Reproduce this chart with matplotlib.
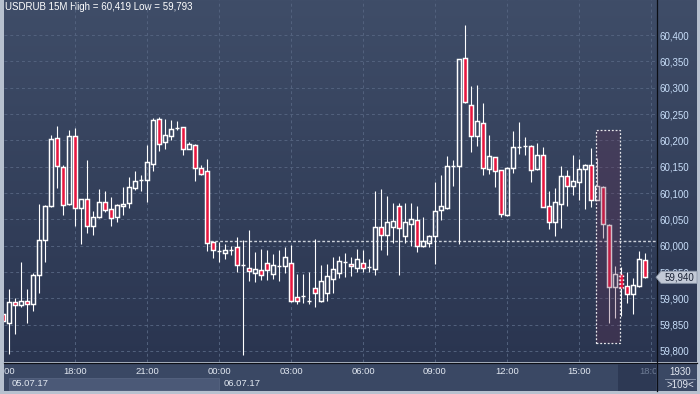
"""USDRUB 15M candlestick chart, dark terminal style."""

import matplotlib

matplotlib.use("Agg")
import matplotlib.pyplot as plt
import numpy as np
from matplotlib.patches import Polygon, Rectangle
from matplotlib.ticker import FixedLocator, FuncFormatter

plt.rcParams["font.family"] = ["Liberation Sans", "DejaVu Sans"]

W, H = 700, 394

# 15-minute candles, starting 05.07.17 15:00
OPEN = [
    59.870, 59.854, 59.893, 59.888, 59.894, 59.889, 59.945, 60.010, 60.076, 60.204,
    60.149, 60.079, 60.209, 60.072, 60.088, 60.038, 60.054, 60.082, 60.069, 60.054,
    60.076, 60.081, 60.110, 60.124, 60.124, 60.155, 60.240, 60.196, 60.209, 60.223,
    60.225, 60.184, 60.192, 60.147, 60.141, 60.007, 59.989, 59.987, 59.991, 59.997,
    59.963, 59.957, 59.949, 59.953, 59.968, 59.947, 59.962, 59.962, 59.968, 59.903,
    59.904, 59.895, 59.919, 59.894, 59.911, 59.936, 59.949, 59.969, 59.965, 59.958,
    59.968, 59.959, 59.955, 60.036, 60.021, 60.035, 60.075, 60.019, 60.042, 60.048,
    59.999, 60.006, 60.018, 60.067, 60.072, 60.152, 60.152, 60.356, 60.268, 60.208,
    60.232, 60.145, 60.168, 60.143, 60.059, 60.147, 60.188, 60.190, 60.190, 60.145,
    60.172, 60.075, 60.044, 60.080, 60.133, 60.113, 60.120, 60.145, 60.154, 60.087,
    60.112, 60.040, 59.922, 59.946, 59.923, 59.909, 59.924, 59.972,
]
HIGH = [
    59.872, 59.917, 59.901, 59.969, 59.918, 59.948, 60.080, 60.077, 60.211, 60.227,
    60.153, 60.220, 60.224, 60.089, 60.163, 60.066, 60.107, 60.104, 60.092, 60.080,
    60.111, 60.130, 60.142, 60.135, 60.191, 60.243, 60.244, 60.240, 60.238, 60.237,
    60.226, 60.197, 60.193, 60.153, 60.164, 60.008, 60.007, 60.003, 60.000, 60.016,
    60.011, 60.030, 59.988, 59.993, 59.992, 59.985, 59.992, 59.998, 60.001, 59.947,
    59.946, 59.950, 60.012, 59.963, 59.965, 59.978, 59.980, 59.987, 59.978, 59.993,
    59.992, 59.974, 60.104, 60.107, 60.094, 60.081, 60.081, 60.081, 60.081, 60.075,
    60.054, 60.021, 60.120, 60.134, 60.170, 60.163, 60.354, 60.419, 60.303, 60.306,
    60.271, 60.210, 60.169, 60.144, 60.149, 60.218, 60.235, 60.206, 60.191, 60.195,
    60.187, 60.104, 60.109, 60.151, 60.143, 60.172, 60.164, 60.155, 60.185, 60.167,
    60.113, 60.041, 59.962, 59.960, 59.950, 59.938, 59.989, 59.986,
]
LOW = [
    59.855, 59.795, 59.832, 59.884, 59.853, 59.876, 59.910, 59.969, 60.074, 60.109,
    60.059, 60.077, 60.038, 60.003, 60.024, 60.020, 60.053, 60.063, 60.038, 60.045,
    60.058, 60.072, 60.106, 60.104, 60.083, 60.142, 60.180, 60.184, 60.201, 60.219,
    60.172, 60.183, 60.123, 60.135, 59.990, 59.977, 59.969, 59.975, 59.983, 59.950,
    59.793, 59.933, 59.931, 59.935, 59.935, 59.937, 59.933, 59.949, 59.893, 59.890,
    59.891, 59.889, 59.884, 59.893, 59.894, 59.911, 59.939, 59.941, 59.942, 59.950,
    59.950, 59.950, 59.945, 59.992, 59.983, 60.006, 59.945, 60.006, 60.000, 59.988,
    59.998, 59.997, 59.966, 60.049, 60.069, 60.114, 60.004, 60.270, 60.178, 60.190,
    60.135, 60.137, 60.112, 60.055, 60.057, 60.138, 60.174, 60.172, 60.121, 60.144,
    60.073, 60.031, 60.019, 60.034, 60.076, 60.097, 60.087, 60.070, 60.074, 60.086,
    60.015, 59.853, 59.862, 59.866, 59.891, 59.870, 59.921, 59.939,
]
CLOSE = [
    59.857, 59.893, 59.888, 59.894, 59.889, 59.945, 60.010, 60.075, 60.202, 60.151,
    60.078, 60.208, 60.072, 60.088, 60.038, 60.054, 60.082, 60.067, 60.052, 60.078,
    60.080, 60.111, 60.122, 60.124, 60.158, 60.238, 60.194, 60.211, 60.221, 60.223,
    60.184, 60.193, 60.147, 60.136, 60.006, 59.991, 59.990, 59.991, 59.991, 59.964,
    59.963, 59.951, 59.955, 59.945, 59.954, 59.964, 59.962, 59.978, 59.894, 59.894,
    59.904, 59.895, 59.911, 59.932, 59.943, 59.955, 59.970, 59.969, 59.962, 59.974,
    59.958, 59.959, 60.035, 60.021, 60.044, 60.046, 60.033, 60.044, 60.050, 59.999,
    60.008, 60.018, 60.065, 60.075, 60.152, 60.152, 60.354, 60.272, 60.209, 60.236,
    60.147, 60.170, 60.141, 60.061, 60.147, 60.187, 60.188, 60.190, 60.143, 60.173,
    60.074, 60.044, 60.082, 60.133, 60.113, 60.122, 60.145, 60.154, 60.087, 60.114,
    60.042, 59.921, 59.947, 59.919, 59.908, 59.926, 59.974, 59.940,
]

TIME_TICKS = [0, 12, 24, 36, 48, 60, 72, 84, 96, 108]
TIME_LABELS = ["15:00", "18:00", "21:00", "00:00", "03:00", "06:00", "09:00", "12:00", "15:00", "18:00"]
PRICE_LEVELS = [59.80, 59.85, 59.90, 59.95, 60.00, 60.05, 60.10, 60.15, 60.20, 60.25, 60.30, 60.35, 60.40]
DATE_LABELS = ["05.07.17", "06.07.17"]
DATE_STARTS = [1.5, 36.7]

TITLE = "USDRUB 15M High = 60,419 Low = 59,793"
LAST_PRICE = 59.940
LEVEL_PRICE = 60.008
LEVEL_START = 34.5
ZONE_X = (98.9, 102.9)
ZONE_Y = (59.815, 60.219)

UP_FACE = "none"
DOWN_FACE = "#e8163e"
EDGE = "#ffffff"
GRID = "#53627e"


def px(x, y, w, h):
    """Pixel box (top-left origin) -> figure fraction rect."""
    return [x / W, 1 - (y + h) / H, w / W, h / H]


def price_fmt(v, _pos=None):
    return f"{v:.3f}".replace(".", ",")


def main():
    fig = plt.figure(figsize=(W / 100, H / 100), dpi=100, facecolor="#b7c1cf")

    # static background in pixel coords
    bg = fig.add_axes([0, 0, 1, 1])
    bg.set_xlim(0, W)
    bg.set_ylim(H, 0)
    bg.axis("off")
    top = np.array([63, 77, 104]) / 255
    bot = np.array([42, 53, 80]) / 255
    t = np.linspace(0, 1, 256)[:, None, None]
    grad = top * (1 - t) + bot * t
    bg.imshow(grad, extent=(4, 697, 362, 0), aspect="auto", interpolation="bilinear")
    bg.add_patch(Rectangle((4, 363), 693, 28, facecolor="#3a4864", edgecolor="none"))
    bg.plot([657, 657], [0, 391], color="#0b0e15", lw=0.9)
    bg.plot([4, 697], [363, 363], color="#0b0e15", lw=0.9)
    bg.text(680, 372, "1930", ha="center", va="center", fontsize=7, color="#e4e9f2")
    bg.plot([665, 695], [378.5, 378.5], color="#8e9ab0", lw=0.6)
    bg.text(680, 385, ">109<", ha="center", va="center", fontsize=7, color="#e4e9f2")
    bg.text(5, 7, TITLE, ha="left", va="center", fontsize=7, color="#ffffff")

    # price chart
    ax = fig.add_axes(px(4, 0, 652, 362))
    ax.set_facecolor("none")
    xlim = (1 / 6, 653 / 6)
    ax.set_xlim(*xlim)
    ax.set_ylim(59.7791, 60.4665)
    for s in ax.spines.values():
        s.set_visible(False)
    ax.set_xticks([])
    ax.yaxis.tick_right()
    ax.yaxis.set_major_locator(FixedLocator(PRICE_LEVELS))
    ax.yaxis.set_major_formatter(FuncFormatter(price_fmt))
    ax.tick_params(axis="y", length=0, pad=2.2, labelsize=7, labelcolor="#c8def9")

    for p in PRICE_LEVELS:
        ax.axhline(p, color=GRID, lw=0.7, dashes=(3, 3), zorder=1)
    for tk in TIME_TICKS[1:]:
        ax.axvline(tk, color=GRID, lw=0.7, dashes=(3, 3), zorder=1)

    ax.hlines(LEVEL_PRICE, LEVEL_START, xlim[1], colors="#cdd2db", lw=1.0,
              linestyles=(0, (2, 1.5)), zorder=2)

    idx = np.arange(len(OPEN))
    o, h, l, c = (np.array(a) for a in (OPEN, HIGH, LOW, CLOSE))
    body_top = np.maximum(o, c)
    body_bot = np.minimum(o, c)
    ax.vlines(idx, body_top, h, colors=EDGE, lw=0.8, zorder=3)
    ax.vlines(idx, l, body_bot, colors=EDGE, lw=0.8, zorder=3)
    for i in idx:
        down = c[i] < o[i]
        ax.add_patch(Rectangle(
            (i - 0.3, body_bot[i]), 0.6, body_top[i] - body_bot[i],
            facecolor=DOWN_FACE if down else UP_FACE, edgecolor=EDGE,
            lw=1.05, zorder=3, linestyle=":" if i == 103 else "-",
        ))

    # highlighted zone
    zw = ZONE_X[1] - ZONE_X[0]
    zh = ZONE_Y[1] - ZONE_Y[0]
    ax.add_patch(Rectangle((ZONE_X[0], ZONE_Y[0]), zw, zh, facecolor=(100 / 255, 48 / 255, 84 / 255),
                           alpha=0.3, edgecolor="none", zorder=4))
    ax.add_patch(Rectangle((ZONE_X[0], ZONE_Y[0]), zw, zh, fill=False, edgecolor="#e6e6ea",
                           lw=0.9, linestyle=(0, (1.5, 1.5)), zorder=5))

    # last price marker on the price scale
    ytr = ax.get_yaxis_transform()
    dh = 0.0115
    x0, x1, x2 = 1.0, 5 / 652 + 1.0, 41 / 652 + 1.0
    ax.add_patch(Polygon(
        [(x0, LAST_PRICE), (x1, LAST_PRICE + dh), (x2, LAST_PRICE + dh),
         (x2, LAST_PRICE - dh), (x1, LAST_PRICE - dh)],
        closed=True, transform=ytr, clip_on=False, facecolor="#c3cad7",
        edgecolor="#8d98aa", lw=0.6, zorder=10,
    ))
    ax.text(1.0 + 23 / 652, LAST_PRICE, price_fmt(LAST_PRICE), transform=ytr, ha="center",
            va="center", fontsize=7, color="#1b2336", zorder=11, clip_on=False)

    # time scale
    tax = fig.add_axes(px(4, 364, 652, 27))
    tax.set_facecolor("none")
    tax.set_xlim(*xlim)
    tax.set_ylim(27, 0)
    tax.axis("off")
    tax.add_patch(Rectangle((102.5, 0), 7, 27, facecolor="#2d3954", edgecolor="none"))
    tax.add_patch(Rectangle((1, 14), 35, 12, facecolor="#4b5977", edgecolor="#5a6885", lw=0.5))
    for tk, lab in zip(TIME_TICKS, TIME_LABELS):
        col = "#6e7c95" if tk == TIME_TICKS[-1] else "#e2e8f1"
        tax.text(tk, 8, lab, ha="center", va="center", fontsize=6.8, color=col, clip_on=True)
    for xs, lab in zip(DATE_STARTS, DATE_LABELS):
        tax.text(xs, 20, lab, ha="left", va="center", fontsize=6.8, color="#e2e8f1", clip_on=True)

    fig.savefig("out.png", dpi=100, facecolor=fig.get_facecolor())


if __name__ == "__main__":
    main()
